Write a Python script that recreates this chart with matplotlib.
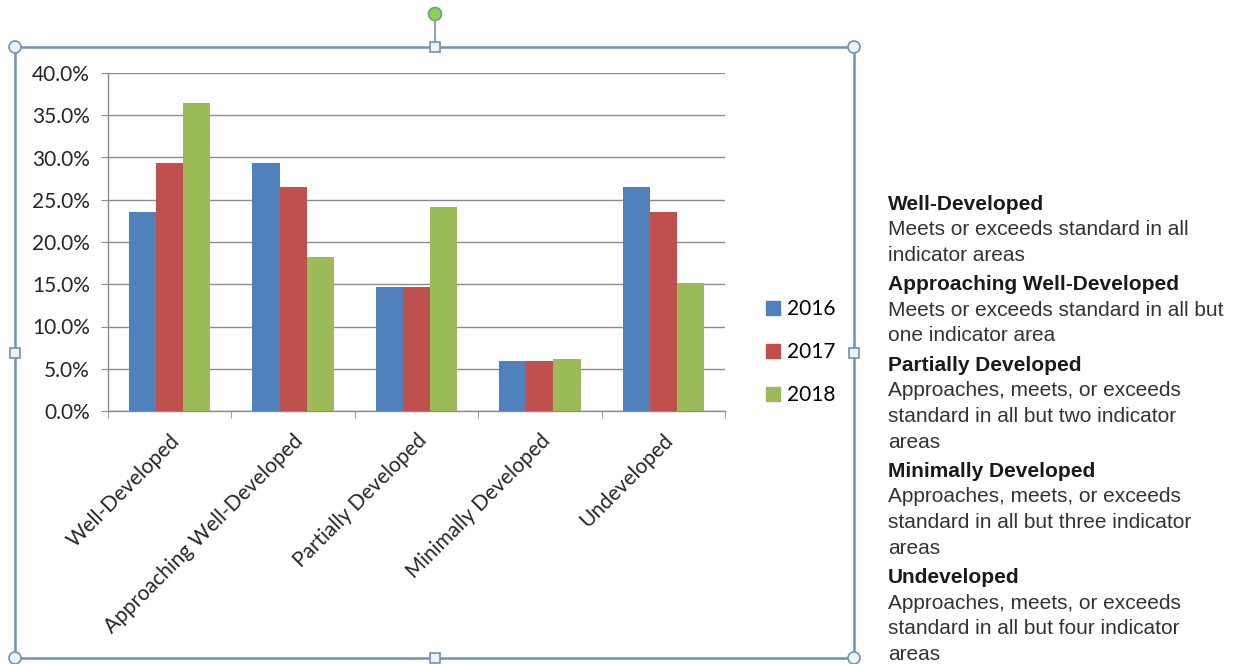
import matplotlib
matplotlib.use('Agg')
import matplotlib.pyplot as plt
import matplotlib.ticker as mticker
from matplotlib.patches import Rectangle, Circle
from matplotlib.lines import Line2D
import numpy as np

# -- Data --
categories = ['Well-Developed', 'Approaching Well-Developed', 'Partially Developed',
              'Minimally Developed', 'Undeveloped']
years = ['2016', '2017', '2018']
share_2016 = [0.235, 0.294, 0.147, 0.059, 0.265]
share_2017 = [0.294, 0.265, 0.147, 0.059, 0.235]
share_2018 = [0.364, 0.182, 0.242, 0.061, 0.152]

definitions = [
    ('Well-Developed', ['Meets or exceeds standard in all', 'indicator areas']),
    ('Approaching Well-Developed', ['Meets or exceeds standard in all but',
                                    'one indicator area']),
    ('Partially Developed', ['Approaches, meets, or exceeds',
                             'standard in all but two indicator', 'areas']),
    ('Minimally Developed', ['Approaches, meets, or exceeds',
                             'standard in all but three indicator', 'areas']),
    ('Undeveloped', ['Approaches, meets, or exceeds',
                     'standard in all but four indicator', 'areas']),
]

COLORS = ['#4F81BD', '#C0504D', '#9BBB59']
GRID = '#8C8C8C'
FRAME = '#7391B4'
CHART_FONT = 'Lato'
NOTE_FONT = 'Liberation Sans'

W, H = 1236, 664


def fx(x):
    return x / W


def fy(y):
    return 1 - y / H


fig = plt.figure(figsize=(W / 100, H / 100), dpi=100)
fig.patch.set_facecolor('white')

# -- Bar chart --
ax = fig.add_axes([fx(108), fy(411), fx(725) - fx(108), fy(73) - fy(411)])
x = np.arange(len(categories))
bw = 0.22
series = [share_2016, share_2017, share_2018]
for i, (vals, c, lab) in enumerate(zip(series, COLORS, years)):
    ax.bar(x + (i - 1) * bw, vals, bw, color=c, label=lab, zorder=3)

ax.set_xlim(-0.5, len(categories) - 0.5)
ax.set_ylim(0, 0.40)
ax.yaxis.set_major_locator(mticker.MultipleLocator(0.05))
ax.yaxis.set_major_formatter(mticker.FuncFormatter(lambda v, _: '{:.1f}%'.format(v * 100)))
ax.grid(axis='y', color=GRID, linewidth=1.0, zorder=0)

for s in ['top', 'right']:
    ax.spines[s].set_visible(False)
for s in ['left', 'bottom']:
    ax.spines[s].set_color(GRID)
    ax.spines[s].set_linewidth(1.0)

ax.tick_params(axis='y', direction='out', length=5, color=GRID, labelsize=15,
               pad=8, labelcolor='#262626')
ax.set_xticks(x)
ax.set_xticklabels(categories, rotation=45, ha='right', rotation_mode='anchor',
                   fontsize=15, color='#262626')
ax.tick_params(axis='x', which='major', length=0, pad=14)
ax.set_xticks(np.arange(-0.5, len(categories)), minor=True)
ax.tick_params(axis='x', which='minor', direction='out', length=5, color=GRID)
for lbl in ax.get_xticklabels() + ax.get_yticklabels():
    lbl.set_fontfamily(CHART_FONT)

# legend
handles = [Line2D([], [], marker='s', linestyle='none', markersize=10,
                  markerfacecolor=c, markeredgecolor=c) for c in COLORS]
fig.legend(handles, years, loc='center left', bbox_to_anchor=(fx(748), fy(352)),
           frameon=False, handlelength=0.6, handletextpad=0.35, labelspacing=1.1,
           prop={'family': CHART_FONT, 'size': 15})

# -- Chart frame with selection handles --
frame = Rectangle((fx(15), fy(658)), fx(854) - fx(15), fy(47) - fy(658),
                  transform=fig.transFigure, fill=False, edgecolor=FRAME,
                  linewidth=1.8, zorder=5)
fig.add_artist(frame)
fig.add_artist(Line2D([fx(435), fx(435)], [fy(47), fy(20)], transform=fig.transFigure,
                      color=FRAME, linewidth=1.2, zorder=5))
for cx, cy in [(15, 47), (854, 47), (15, 658), (854, 658)]:
    fig.add_artist(Circle((cx, H - cy), 6, transform=None, facecolor='#EAF4FB',
                          edgecolor=FRAME, linewidth=1.2, zorder=6))
for cx, cy in [(435, 47), (15, 353), (854, 353), (435, 658)]:
    fig.add_artist(Rectangle((cx - 5, H - cy - 5), 10, 10, transform=None,
                             facecolor='#EAF4FB', edgecolor=FRAME, linewidth=1.2,
                             zorder=6))
fig.add_artist(Circle((435, H - 14), 6.5, transform=None, facecolor='#8FD14F',
                      edgecolor='#6E9E8C', linewidth=1.2, zorder=6))

# -- Level definitions --
y = 204
for title, lines in definitions:
    fig.text(fx(888), fy(y), title, fontsize=15, fontweight='bold', family=NOTE_FONT,
             color='#1A1A1A', va='center', ha='left')
    y += 25.8
    for ln in lines:
        fig.text(fx(888), fy(y), ln, fontsize=15, family=NOTE_FONT,
                 color='#333333', va='center', ha='left')
        y += 25.6
    y += 3.5

fig.savefig('out.png', dpi=100)
